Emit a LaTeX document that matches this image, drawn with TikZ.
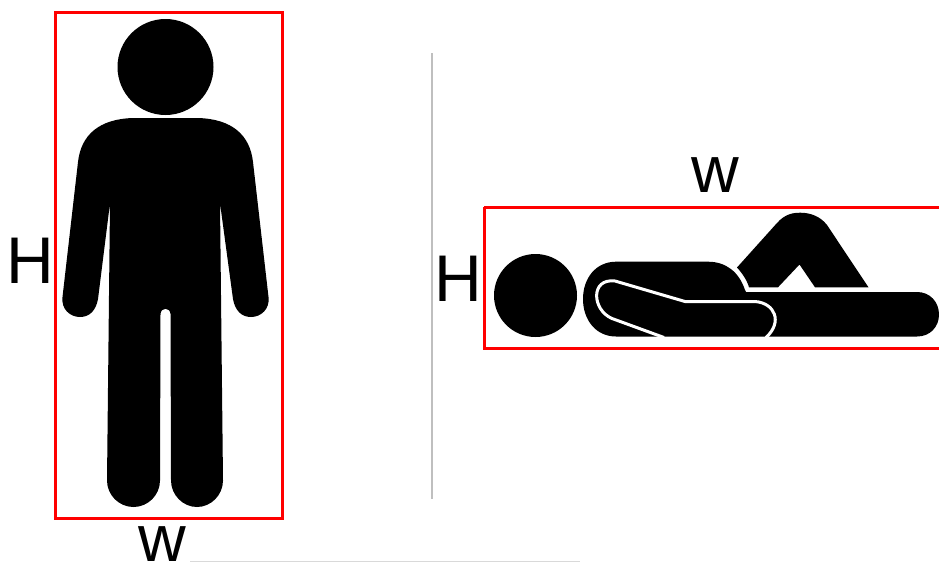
\documentclass[tikz,border=0pt]{standalone}
\usepackage{fontspec}
\setmainfont{Liberation Sans}
\tikzset{
  frame/.style={draw={rgb,255:red,255;green,0;blue,0}, line width=3pt},
  sil/.style={fill=black, draw=none},
  gapline/.style={draw=white, line width=3pt, line join=round},
  dimlabel/.style={anchor=base, inner sep=0pt, font=\fontsize{66}{66}\selectfont, text=black},
  rule/.style={draw=black!25, line width=1.2pt}
}
\begin{document}
\begin{tikzpicture}[x=1pt,y=-1pt]
\useasboundingbox (0,0) rectangle (939,563);
\clip (0,0) rectangle (939,563);
% standing figure
\fill[sil] (165.5,67) circle (48);
\fill[sil] (133,118) -- (198,118)
  .. controls (232,119) and (250,135) .. (253,162)
  -- (268.5,297) .. controls (270,309) and (261,317) .. (251,317)
  .. controls (241,317) and (235,310) .. (233,299)
  -- (220,203) -- (223,480.5)
  .. controls (223,495) and (211,507) .. (197,507)
  .. controls (183,507) and (171,495) .. (171,480.5)
  -- (170.5,314) .. controls (170,307) and (161,307) .. (160.5,314)
  -- (160,480.5)
  .. controls (160,495) and (148,507) .. (133.5,507)
  .. controls (119,507) and (107,495) .. (107,480.5)
  -- (110,203) -- (98,299)
  .. controls (96,310) and (90,317) .. (80,317)
  .. controls (70,317) and (61,309) .. (62.5,297)
  -- (78,162)
  .. controls (81,135) and (99,119) .. (133,118) -- cycle;
\draw[frame] (55,12) rectangle (282,518);
\node[dimlabel] (hleft) at (30,283) {H};
\node[dimlabel] (wleft) at (162,561) {w};
% divider
\draw[rule] (432,53) -- (432,499);
% lying figure
\fill[sil] (535.5,295.5) circle (41.5);
\fill[sil] (663,336.5) -- (616,336.5)
  .. controls (596,336.5) and (583,320) .. (583,299)
  .. controls (583,278) and (596,261.7) .. (616,261.7)
  -- (708,261.7)
  .. controls (726,261.7) and (739,272) .. (745,290)
  -- (746,292) -- (917,292)
  .. controls (930,292) and (939,302) .. (939,314.5)
  .. controls (939,327) and (930,336.5) .. (917,336.5)
  -- cycle;
\fill[sil] (737,267.5) -- (777,223)
  .. controls (785,214) and (793,212.7) .. (800,212.7)
  .. controls (810,212.7) and (820,216) .. (827,225)
  -- (868.5,287.3) -- (815,287.3) -- (799.5,264.5) -- (778,287.3)
  -- (749,287.3) .. controls (747,280) and (742,273) .. (737,267.5) -- cycle;
\draw[gapline] (664,337.5) -- (612,318.5)
  .. controls (592,310) and (590,278) .. (615,281)
  -- (685,301.5) -- (755,301.5)
  .. controls (775,303) and (783,322) .. (766,337.5);
\draw[frame] (484,207) -- (945,207) (484,207) -- (484,348) -- (945,348);
\node[dimlabel] (hright) at (458,301) {H};
\node[dimlabel] (wright) at (715,192) {w};
% faint rule at the foot
\draw[draw=black!15, line width=1.2pt] (190,561.5) -- (580,561.5);
\end{tikzpicture}
\end{document}
